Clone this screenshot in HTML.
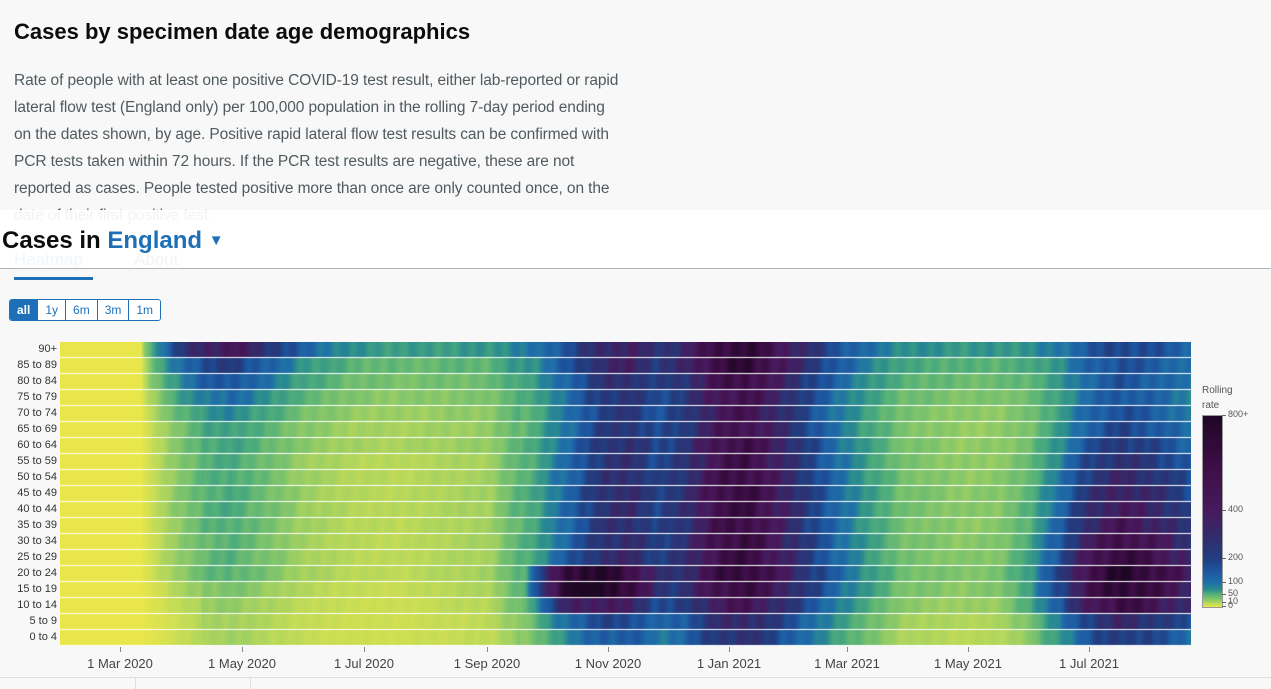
<!DOCTYPE html>
<html><head><meta charset="utf-8"><style>
body{margin:0;width:1271px;height:689px;background:#f8f8f8;font-family:"Liberation Sans",sans-serif;position:relative;overflow:hidden}
.abs{position:absolute}
h1{position:absolute;left:14px;top:19px;margin:0;font-size:22px;font-weight:bold;color:#0b0c0c}
.p{position:absolute;left:14px;top:67px;font-size:15.5px;line-height:27px;color:#505a5f;white-space:nowrap;letter-spacing:-0.1px}
.band{position:absolute;left:0;top:210px;width:1271px;height:58px;background:rgba(255,255,255,0.93);border-bottom:1px solid #b1b4b6}
.btns{position:absolute;left:9px;top:299px;display:flex;border:1px solid #1d70b8;border-radius:3px;overflow:hidden}
.btns div{height:20px;line-height:20px;font-size:12px;color:#1d70b8;background:#fff;padding:0 7px;border-left:1px solid #1d70b8}
.btns div:first-child{background:#1d70b8;color:#fff;font-weight:bold;border-left:none}
.yl{position:absolute;right:1214px;font-size:11px;color:#333;text-align:right;white-space:nowrap}
.xl{position:absolute;top:656px;font-size:13px;color:#444;white-space:nowrap;transform:translateX(-50%)}
.lt{position:absolute;left:1228px;font-size:9px;color:#555}
</style></head><body>
<h1>Cases by specimen date age demographics</h1>
<div class="p">Rate of people with at least one positive COVID-19 test result, either lab-reported or rapid<br>lateral flow test (England only) per 100,000 population in the rolling 7-day period ending<br>on the dates shown, by age. Positive rapid lateral flow test results can be confirmed with<br>PCR tests taken within 72 hours. If the PCR test results are negative, these are not<br>reported as cases. People tested positive more than once are only counted once, on the<br>date of their first positive test.</div>
<div class="abs" style="left:14px;top:250px;font-size:17px;color:#1d70b8">Heatmap</div>
<div class="abs" style="left:134px;top:250px;font-size:17px;color:#505a5f">About</div>
<div class="band"></div>
<div class="abs" style="left:2px;top:227px;font-size:24px;font-weight:bold;color:#0b0c0c">Cases in <span style="color:#1d70b8">England</span> <span style="color:#1d70b8;font-size:15px;vertical-align:3px">▼</span></div>
<div class="abs" style="left:14px;top:277px;width:79px;height:3px;background:#1d70b8"></div>
<div class="btns"><div>all</div><div>1y</div><div>6m</div><div>3m</div><div>1m</div></div>
<canvas id="c" width="1131" height="304" class="abs" style="left:60px;top:342px"></canvas>
<div id="yl"></div>
<div id="xl"></div>
<div class="abs" style="left:1202px;top:383px;font-size:10px;line-height:15px;color:#555">Rolling<br>rate</div>
<div class="abs" style="left:1202px;top:415px;width:19px;height:191px;border:1px solid #999;background:linear-gradient(to bottom,#1e0625 0%,#3d0d45 25%,#48195c 49.5%,#342a6a 62%,#223d80 74.5%,#1d55a0 81%,#1f6fa8 87%,#2a8c8f 91%,#4fae7a 93%,#84c66a 96%,#b8d85a 98%,#e8e64a 100%)"></div>
<div id="lg"></div>
<div class="abs" style="left:0;top:677px;width:1271px;height:1px;background:#e0e0e0"></div>
<div class="abs" style="left:135px;top:677px;width:1px;height:12px;background:#ddd"></div>
<div class="abs" style="left:250px;top:677px;width:1px;height:12px;background:#ddd"></div>
<script>
var labels=["90+","85 to 89","80 to 84","75 to 79","70 to 74","65 to 69","60 to 64","55 to 59","50 to 54","45 to 49","40 to 44","35 to 39","30 to 34","25 to 29","20 to 24","15 to 19","10 to 14","5 to 9","0 to 4"];
var h="";labels.forEach(function(l,i){h+='<div class="yl" style="top:'+(342+i*16+1)+'px">'+l+'</div>';});
document.getElementById("yl").innerHTML=h;
var xs=[[120,"1 Mar 2020"],[242,"1 May 2020"],[364,"1 Jul 2020"],[487,"1 Sep 2020"],[608,"1 Nov 2020"],[729,"1 Jan 2021"],[847,"1 Mar 2021"],[968,"1 May 2021"],[1089,"1 Jul 2021"]];
h="";xs.forEach(function(x){h+='<div class="xl" style="left:'+x[0]+'px">'+x[1]+'</div><div class="abs" style="left:'+x[0]+'px;top:647px;width:1px;height:5px;background:#888"></div>';});
document.getElementById("xl").innerHTML=h;
var lg=[[415,"800+"],[510,"400"],[558,"200"],[582,"100"],[594,"50"],[602,"10"],[606,"0"]];
h="";lg.forEach(function(l){h+='<div class="lt" style="top:'+(l[0]-6)+'px">'+l[1]+'</div><div class="abs" style="left:1222px;top:'+l[0]+'px;width:4px;height:1px;background:#666"></div>';});
document.getElementById("lg").innerHTML=h;
function interp(k,x){if(x<=k[0][0])return k[0][1];for(var i=1;i<k.length;i++){if(x<=k[i][0]){var a=k[i-1],b=k[i],t=(x-a[0])/(b[0]-a[0]);return a[1]+(b[1]-a[1])*t;}}return k[k.length-1][1];}
var w1=[[60,0],[140,0],[160,15],[200,55],[230,70],[260,45],[300,20],[350,10],[400,8]];
var w2=[[400,0],[490,5],[535,40],[570,110],[605,240],[630,270],[655,170],[685,240],[720,480],[745,540],[775,360],[805,200],[835,100],[865,50],[900,20],[960,10]];
var w3=[[900,0],[1000,5],[1030,25],[1060,110],[1090,300],[1120,440],[1150,350],[1191,200]];
var st=[[525,0],[545,80],[570,260],[600,220],[630,100],[670,0]];
var m1=[6,3,2.2,1.5,1,0.7,0.65,0.6,0.6,0.6,0.6,0.55,0.5,0.5,0.5,0.3,0.2,0.15,0.15];
var m2=[1.15,1.2,1.0,0.9,0.85,0.9,1,1,1.05,1.1,1.1,1.05,1.1,1.1,1.2,1.1,0.85,0.6,0.5];
var m3=[0.3,0.3,0.3,0.3,0.35,0.4,0.5,0.6,0.7,0.8,0.9,1,1.2,1.4,1.7,1.6,1.3,0.7,0.5];
var ms=[0,0,0,0,0,0,0,0,0,0,0,0,0,0.1,2.2,2.8,1.0,0.2,0.1];
var cs=[[0,"#e8e64a"],[8,"#b8d85a"],[20,"#84c66a"],[40,"#4fae7a"],[70,"#2a8c8f"],[100,"#1f6fa8"],[150,"#1d55a0"],[200,"#223d80"],[300,"#342a6a"],[400,"#48195c"],[550,"#3d0d45"],[800,"#1e0625"]];
function hx(s){return[parseInt(s.substr(1,2),16),parseInt(s.substr(3,2),16),parseInt(s.substr(5,2),16)];}
cs=cs.map(function(c){return[c[0],hx(c[1])];});
function col(v){if(v<=0)return cs[0][1];for(var i=1;i<cs.length;i++){if(v<=cs[i][0]){var a=cs[i-1],b=cs[i],t=(v-a[0])/(b[0]-a[0]);return[0,1,2].map(function(j){return Math.round(a[1][j]+(b[1][j]-a[1][j])*t);});}}return cs[cs.length-1][1];}
var c=document.getElementById("c").getContext("2d");
c.fillStyle="#fff";c.fillRect(0,0,1131,304);
for(var r=0;r<19;r++){for(var px=0;px<1131;px+=2){var x=px+60;
var base=(x>200&&x<520)?(r<7?6:3):0;
var v=interp(w1,x)*m1[r]+interp(w2,x)*m2[r]+interp(w3,x)*m3[r]+interp(st,x)*ms[r]+base;
v*=1+0.12*Math.sin(x*0.37+r*1.3)+0.08*Math.sin(x*0.11+r*2.1);
var k=col(v);c.fillStyle="rgb("+k[0]+","+k[1]+","+k[2]+")";c.fillRect(px,r*16,2,15);}}
</script>
</body></html>
